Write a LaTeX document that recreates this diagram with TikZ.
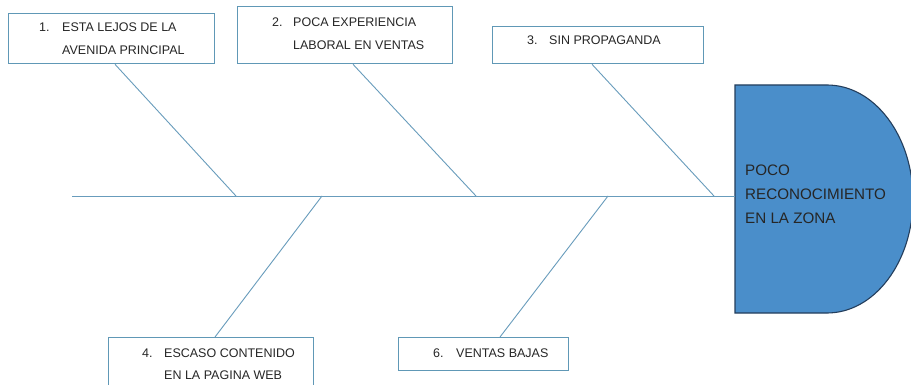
\documentclass[tikz,border=0pt]{standalone}
\usepackage{fontspec}
\setmainfont{Liberation Sans}
\definecolor{boxc}{RGB}{96,152,182}
\definecolor{bonec}{RGB}{104,156,188}
\definecolor{headfill}{RGB}{74,142,202}
\definecolor{headline}{RGB}{36,62,92}
\definecolor{txt}{RGB}{38,38,38}
\tikzset{
  causebox/.style={draw=boxc, line width=1.3pt, fill=white, rectangle, inner sep=0pt, anchor=north west},
  bone/.style={draw=bonec, line width=0.9pt},
  num/.style={anchor=west, inner sep=0pt, text=txt, font=\fontsize{12.5}{14}\selectfont},
  lbl/.style={anchor=west, inner sep=0pt, text=txt, font=\fontsize{12.5}{14}\selectfont},
  headtxt/.style={anchor=west, inner sep=0pt, text=txt, font=\fontsize{15.2}{18}\selectfont}
}
\begin{document}
\begin{tikzpicture}[x=1pt,y=-1pt]
\useasboundingbox (0,0) rectangle (911,385);
\clip (0,0) rectangle (911,385);
\fill[white] (0,0) rectangle (911,385);
% head shape
\draw[fill=headfill, draw=headline, line width=1.1pt]
  (735,85) -- (827,85) arc[start angle=90, end angle=-90, x radius=86pt, y radius=114pt] -- (735,313) -- cycle;
\coordinate (hd) at (735,196);
\coordinate (tail) at (72,196);
\node[headtxt] (h1) at (745,170) {POCO};
\node[headtxt] (h2) at (745,194) {RECONOCIMIENTO};
\node[headtxt] (h3) at (745,218) {EN LA ZONA};
% spine
\draw[bone] (tail) -- (hd);
% joints on spine
\coordinate (j1) at (236,196);
\coordinate (j2) at (476,196);
\coordinate (j3) at (714,196);
\coordinate (j4) at (322,196);
\coordinate (j6) at (608,196);
% boxes
\node[causebox, minimum width=206pt, minimum height=50pt] (b1) at (8,13) {};
\node[causebox, minimum width=215pt, minimum height=57pt] (b2) at (237,6) {};
\node[causebox, minimum width=211pt, minimum height=37pt] (b3) at (492,26) {};
\node[causebox, minimum width=205pt, minimum height=55pt] (b4) at (108,337) {};
\node[causebox, minimum width=170pt, minimum height=33pt] (b6) at (398,337) {};
% bones
\draw[bone] ([xshift=107pt]b1.south west) -- (j1);
\draw[bone] ([xshift=116pt]b2.south west) -- (j2);
\draw[bone] ([xshift=100pt]b3.south west) -- (j3);
\draw[bone] (j4) -- ([xshift=107pt]b4.north west);
\draw[bone] (j6) -- ([xshift=102pt]b6.north west);
% texts
\node[num] (n1) at (39,27) {1.};
\node[lbl] (t1a) at (62,27) {ESTA LEJOS DE LA};
\node[lbl] (t1b) at (62,50) {AVENIDA PRINCIPAL};
\node[num] (n2) at (272,22) {2.};
\node[lbl] (t2a) at (293,22) {POCA EXPERIENCIA};
\node[lbl] (t2b) at (293,45) {LABORAL EN VENTAS};
\node[num] (n3) at (527,40) {3.};
\node[lbl] (t3) at (549,40) {SIN PROPAGANDA};
\node[num] (n4) at (142,353) {4.};
\node[lbl] (t4a) at (164,353) {ESCASO CONTENIDO};
\node[lbl] (t4b) at (164,375) {EN LA PAGINA WEB};
\node[num] (n6) at (433,353) {6.};
\node[lbl] (t6) at (456,353) {VENTAS BAJAS};
\end{tikzpicture}
\end{document}
